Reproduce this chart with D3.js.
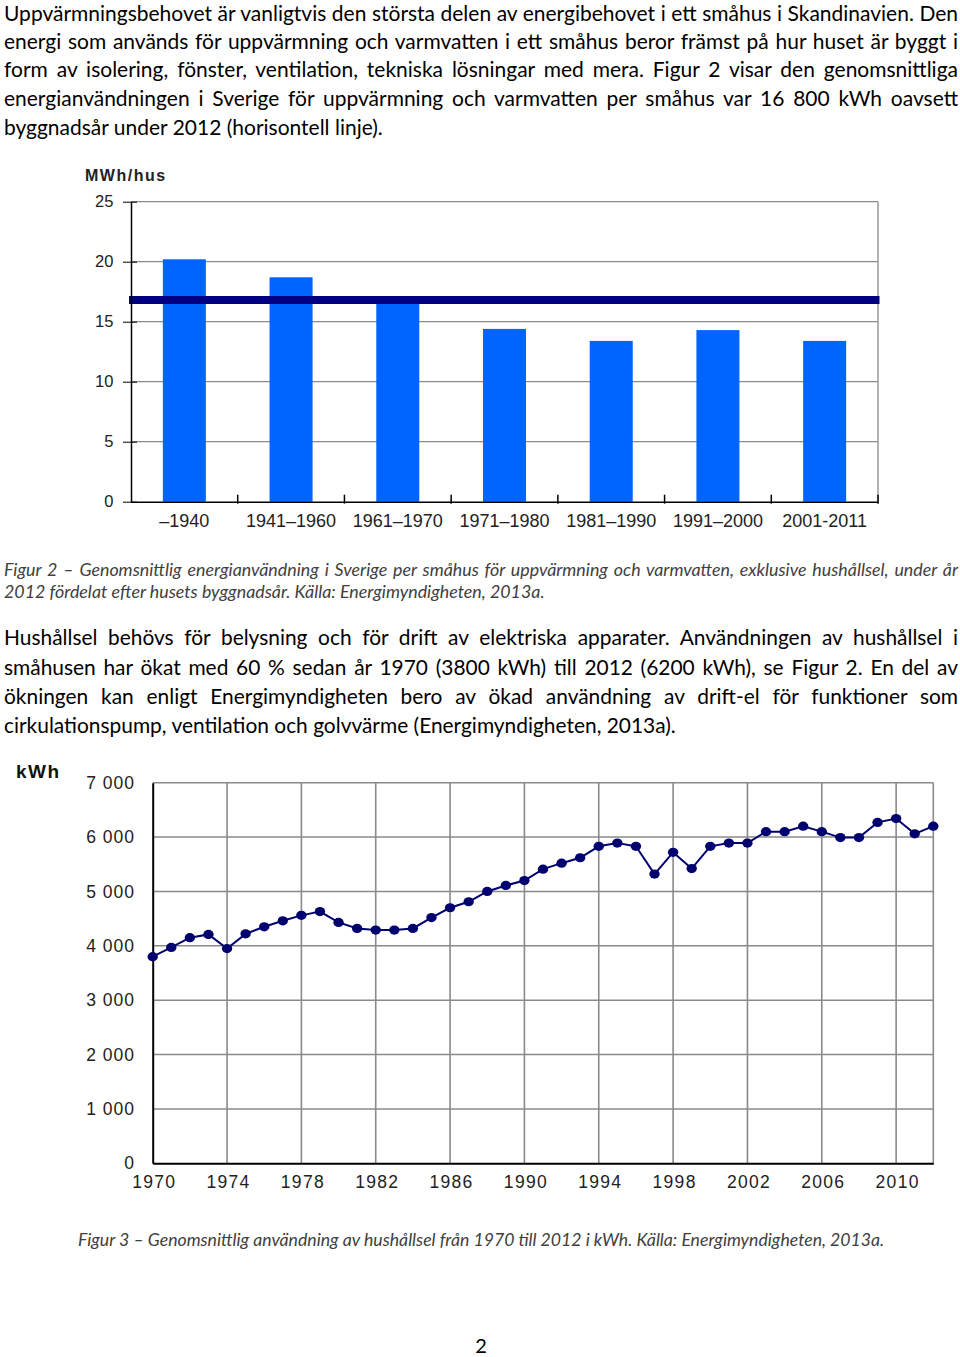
<!DOCTYPE html>
<html>
<head>
<meta charset="utf-8">
<script src="https://cdn.jsdelivr.net/npm/d3@7"></script>
<style>
  html, body { margin: 0; padding: 0; background: #fff; }
  svg { display: block; }
</style>
</head>
<body>
<script>
// ---------- DATA ----------
const barCategories = ["–1940", "1941–1960", "1961–1970", "1971–1980", "1981–1990", "1991–2000", "2001-2011"];
const barValues = [20.2, 18.7, 16.6, 14.4, 13.4, 14.3, 13.4];
const averageValue = 16.8;
const barTicks = [0, 5, 10, 15, 20, 25];

const lineYears = d3.range(1970, 2013);
const lineValues = [
  3800, 3970, 4150, 4210, 3950, 4220, 4350, 4460, 4560, 4630,
  4430, 4320, 4290, 4290, 4320, 4520, 4700, 4810, 5000, 5110,
  5200, 5410, 5520, 5620, 5830, 5890, 5830, 5320, 5720, 5420,
  5830, 5890, 5890, 6100, 6100, 6200, 6100, 5990, 5990, 6270,
  6340, 6060, 6200
];
const lineYTicks = [0, 1000, 2000, 3000, 4000, 5000, 6000, 7000];
const lineXTicks = [1970, 1974, 1978, 1982, 1986, 1990, 1994, 1998, 2002, 2006, 2010];

const para1 = [
  "Uppvärmningsbehovet är vanligtvis den största delen av energibehovet i ett småhus i Skandinavien.  Den",
  "energi som används för uppvärmning och varmvatten i ett småhus beror främst på hur huset är byggt i",
  "form av isolering, fönster, ventilation, tekniska lösningar med mera. Figur 2 visar den genomsnittliga",
  "energianvändningen i Sverige för uppvärmning och varmvatten per småhus var 16 800 kWh oavsett",
  "byggnadsår under 2012 (horisontell linje)."
];
const caption2 = [
  "Figur 2 – Genomsnittlig energianvändning i Sverige per småhus för uppvärmning och varmvatten, exklusive hushållsel, under år",
  "2012 fördelat efter husets byggnadsår. Källa: Energimyndigheten, 2013a."
];
const para2 = [
  "Hushållsel behövs för belysning och för drift av elektriska apparater. Användningen av hushållsel i",
  "småhusen har ökat med 60 % sedan år 1970 (3800 kWh) till 2012 (6200 kWh), se Figur 2. En del av",
  "ökningen kan enligt Energimyndigheten bero av ökad användning av drift-el för funktioner som",
  "cirkulationspump, ventilation och golvvärme (Energimyndigheten, 2013a)."
];
const caption3 = "Figur 3 – Genomsnittlig användning av hushållsel från 1970 till 2012 i kWh. Källa: Energimyndigheten, 2013a.";

// ---------- SVG ----------
const svg = d3.select("body").append("svg").attr("width", 960).attr("height", 1357);

const bodyFont = "Lato, 'Open Sans', sans-serif";
const chartFont = "'Liberation Sans', Arial, sans-serif";

function measure(str, size, italic) {
  const t = svg.append("text").attr("font-family", bodyFont).attr("font-size", size)
    .attr("font-style", italic ? "italic" : "normal").text(str);
  const w = t.node().getComputedTextLength();
  t.remove();
  return w;
}

function paragraph(lines, x, baselines, fullWidth, lastWidth, opts) {
  const clean = lines.map(s => s.replace(/  +/g, " "));
  const probe = 20;
  const natLast = measure(clean[clean.length - 1], probe, opts.italic);
  const size = probe * lastWidth / natLast;
  clean.forEach((s, i) => {
    const isLast = i === clean.length - 1;
    const target = isLast ? lastWidth : fullWidth;
    const t = svg.append("text")
      .attr("x", x).attr("y", baselines[i])
      .attr("font-family", bodyFont)
      .attr("font-size", size)
      .attr("font-style", opts.italic ? "italic" : "normal")
      .attr("fill", opts.color)
      .text(s);
    const nat = t.node().getComputedTextLength();
    const n = (s.match(/ /g) || []).length;
    if (!isLast && n > 0) {
      const ws = (target - nat) / n;
      if (ws > -1.5) t.style("word-spacing", ws + "px");
      else t.attr("textLength", target).attr("lengthAdjust", "spacingAndGlyphs");
    }
  });
}

paragraph(para1, 4, [20.5, 48.5, 77, 106, 135], 954, 379, { color: "#000" });
paragraph(caption2, 4, [576, 598], 954, 541, { italic: true, color: "#404040" });
paragraph(para2, 4, [645, 674.5, 704, 733], 954, 672, { color: "#000" });
paragraph([caption3], 78, [1246], 807, 807, { italic: true, color: "#404040" });

svg.append("text").attr("x", 481).attr("y", 1353).attr("text-anchor", "middle")
  .attr("font-family", bodyFont).attr("font-size", 20).attr("fill", "#000").text("2");

// ---------- BAR CHART ----------
const bx0 = 131, bx1 = 878, by0 = 501.7, by1 = 201.7;
const xB = d3.scaleBand().domain(barCategories).range([bx0, bx1]).paddingInner(0.597).paddingOuter(0.2985);
const yB = d3.scaleLinear().domain([0, 25]).range([by0, by1]);
const gBar = svg.append("g");

gBar.selectAll("line.grid").data(barTicks.filter(d => d > 0)).join("line")
  .attr("x1", bx0).attr("x2", bx1).attr("y1", d => yB(d)).attr("y2", d => yB(d))
  .attr("stroke", "#8a8a8a").attr("stroke-width", 1.3);
gBar.append("line").attr("x1", bx1).attr("x2", bx1).attr("y1", yB(25)).attr("y2", yB(0))
  .attr("stroke", "#8a8a8a").attr("stroke-width", 1.3);

gBar.selectAll("rect.bar").data(barValues).join("rect")
  .attr("x", (d, i) => xB(barCategories[i]))
  .attr("width", xB.bandwidth())
  .attr("y", d => yB(d))
  .attr("height", d => yB(0) - yB(d))
  .attr("fill", "#0064ff");

gBar.append("line").attr("x1", bx0 - 2).attr("x2", bx1 + 1.5)
  .attr("y1", yB(averageValue)).attr("y2", yB(averageValue))
  .attr("stroke", "#000080").attr("stroke-width", 8);

const yAxisB = gBar.append("g").attr("transform", `translate(${bx0},0)`)
  .call(d3.axisLeft(yB).tickValues(barTicks).tickSize(8).tickPadding(10).tickSizeOuter(0));
yAxisB.select(".domain").attr("stroke", "#000").attr("stroke-width", 1.5);
yAxisB.selectAll(".tick line").attr("stroke", "#000").attr("x2", 6).attr("x1", -8);
yAxisB.selectAll(".tick text").attr("x", -17.7).attr("font-family", chartFont).attr("font-size", 16.5).attr("fill", "#222");

const xAxisB = gBar.append("g").attr("transform", `translate(0,${by0})`)
  .call(d3.axisBottom(xB).tickSize(0).tickPadding(12.5).tickSizeOuter(0));
xAxisB.select(".domain").attr("stroke", "#000").attr("stroke-width", 1.6);
xAxisB.selectAll(".tick text").attr("font-family", chartFont).attr("font-size", 18).attr("fill", "#222");
xAxisB.selectAll("line.bound").data(d3.range(1, barCategories.length + 1)).join("line")
  .attr("x1", i => bx0 + i * xB.step()).attr("x2", i => bx0 + i * xB.step())
  .attr("y1", -7).attr("y2", 2).attr("stroke", "#000").attr("stroke-width", 1.5);

svg.append("text").attr("x", 85).attr("y", 180.5).attr("font-family", chartFont)
  .attr("font-size", 16).attr("font-weight", "bold").attr("letter-spacing", 1.5).attr("fill", "#222")
  .text("MWh/hus");

// ---------- LINE CHART ----------
const lx0 = 152.7, lx1 = 933.3, ly0 = 1163.3, ly1 = 782.7;
const xL = d3.scaleLinear().domain([1970, 2012]).range([lx0, lx1]);
const yL = d3.scaleLinear().domain([0, 7000]).range([ly0, ly1]);
const gLine = svg.append("g");

gLine.selectAll("line.hgrid").data(lineYTicks.filter(d => d > 0)).join("line")
  .attr("x1", lx0).attr("x2", lx1).attr("y1", d => yL(d)).attr("y2", d => yL(d))
  .attr("stroke", "#8a8a8a").attr("stroke-width", 1.6);
gLine.selectAll("line.vgrid").data(lineXTicks.filter(d => d > 1970).concat([2012])).join("line")
  .attr("x1", d => xL(d)).attr("x2", d => xL(d)).attr("y1", ly1).attr("y2", ly0)
  .attr("stroke", "#8a8a8a").attr("stroke-width", 1.6);

const yAxisL = gLine.append("g").attr("transform", `translate(${lx0},0)`)
  .call(d3.axisLeft(yL).tickValues(lineYTicks).tickSize(0).tickPadding(17.7)
    .tickFormat(d => d3.format(",")(d).replace(",", " ")));
yAxisL.select(".domain").attr("stroke", "#000").attr("stroke-width", 2);
yAxisL.selectAll(".tick text").attr("font-family", chartFont).attr("font-size", 17.5)
  .attr("letter-spacing", 1).attr("fill", "#222");

const xAxisL = gLine.append("g").attr("transform", `translate(0,${ly0})`)
  .call(d3.axisBottom(xL).tickValues(lineXTicks).tickSize(0).tickPadding(12.5).tickFormat(d3.format("d")));
xAxisL.select(".domain").attr("stroke", "#000").attr("stroke-width", 2);
xAxisL.selectAll(".tick text").attr("font-family", chartFont).attr("font-size", 17.5)
  .attr("letter-spacing", 1.3).attr("fill", "#222").attr("dx", 1);

gLine.append("path")
  .datum(lineValues)
  .attr("d", d3.line().x((d, i) => xL(lineYears[i])).y(d => yL(d)))
  .attr("fill", "none").attr("stroke", "#00006e").attr("stroke-width", 2);
gLine.selectAll("ellipse.pt").data(lineValues).join("ellipse")
  .attr("cx", (d, i) => xL(lineYears[i])).attr("cy", d => yL(d))
  .attr("rx", 5.2).attr("ry", 4.6).attr("fill", "#00006e");

svg.append("text").attr("x", 16).attr("y", 778).attr("font-family", chartFont)
  .attr("font-size", 19).attr("font-weight", "bold").attr("letter-spacing", 1.5).attr("fill", "#111")
  .text("kWh");
</script>
</body>
</html>
